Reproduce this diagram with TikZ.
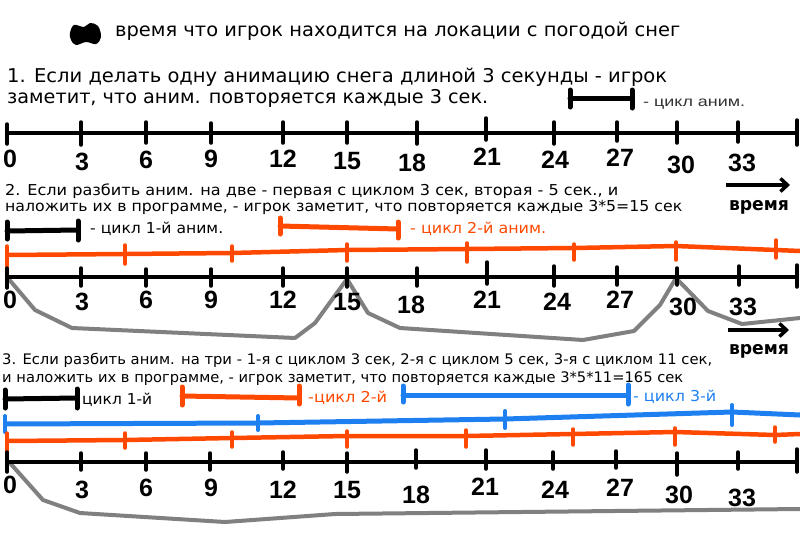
\documentclass[tikz,border=0pt]{standalone}
\usepackage{fontspec}
\setmainfont{DejaVu Sans}
\newfontfamily\numfont{Liberation Sans}
\newfontfamily\thinfont{Liberation Sans}
\usetikzlibrary{arrows.meta}
\definecolor{orng}{RGB}{255,72,0}
\definecolor{blu}{RGB}{30,128,240}
\definecolor{gry}{RGB}{128,128,128}
\newcommand\fitw[2]{\resizebox{#1pt}{\height}{#2}}
\begin{document}
\begin{tikzpicture}[x=1pt,y=-1pt,
  txt/.style={inner sep=0pt,anchor=base west},
  num/.style={inner sep=0pt,font=\numfont\bfseries\fontsize{25}{25}\selectfont},
  tline/.style={line width=4.5pt,black},
  tick/.style={line width=3.5pt,black,line cap=round},
  brk/.style={line width=5pt,line cap=round},
  oline/.style={line width=4.5pt,orng,line join=round},
  otick/.style={line width=3.5pt,orng,line cap=round},
  bline/.style={line width=5pt,blu,line join=round},
  btick/.style={line width=4pt,blu,line cap=round},
  gline/.style={line width=4pt,gry,line join=round,line cap=round},
  timearrow/.style={line width=4pt,-{Straight Barb[length=7pt,width=13pt,line width=3.5pt]}},
  timelbl/.style={inner sep=0pt,font=\bfseries\fontsize{18}{18}\selectfont}
]
\useasboundingbox[fill=white] (0,0) rectangle (800,533);

% ---- title
\fill[black] plot[smooth cycle,tension=0.6] coordinates {(70,33) (74,25) (84,27) (90,23) (98,26) (101,37) (96,44) (86,42) (76,45) (71,40)};
\node[txt,font=\fontsize{19}{19}\selectfont] (title) at (115,36) {\fitw{565}{время что игрок находится на локации с погодой снег}};

% ---- section 1
\node[txt,font=\fontsize{19}{19}\selectfont] (s1a) at (7,82) {\fitw{660}{1. Если делать одну анимацию снега длиной 3 секунды - игрок}};
\node[txt,font=\fontsize{19}{19}\selectfont] (s1b) at (7,103) {\fitw{481}{заметит, что аним. повторяется каждые 3 сек.}};
\draw[brk] (570,98) -- (632,98);
\draw[brk] (570,90) -- (570,107);
\draw[brk] (632,90) -- (632,108);
\node[txt,font=\thinfont\fontsize{14}{14}\selectfont,text=black!80] (c1) at (643,106) {\fitw{102}{- цикл аним.}};

\draw[tline] (7,133) -- (797,133);
\foreach \x/\a/\b in {7/124/144,81/122/145,146/122/143,211/123/143,283/122/143,347/122/143,417/122/144,486/118/140,554/122/144,617/122/141,677/122/143,738/122/142,797/120/145}
  \draw[tick] (\x,\a) -- (\x,\b);
\foreach \x/\y/\t in {10/159/0,82/162/3,146/160/6,211/159/9,283/159/12,347/161/15,412/163/18,487/157/21,555/160/24,620/158/27,681/165/30,742/163/33}
  \node[num] (a\t) at (\x,\y) {\t};

% ---- section 2
\node[txt,font=\fontsize{15}{15}\selectfont] (s2a) at (5,195) {\fitw{613}{2. Если разбить аним. на две - первая с циклом 3 сек, вторая - 5 сек., и}};
\node[txt,font=\fontsize{15}{15}\selectfont] (s2b) at (5,211) {\fitw{677}{наложить их в программе, - игрок заметит, что повторяется каждые 3*5=15 сек}};
\coordinate (ar1s) at (726,185);
\coordinate (ar1e) at (790,185);
\draw[timearrow] (ar1s) -- (ar1e);
\node[timelbl] (t1) at (759,207) {\fitw{60}{время}};

\draw[brk] (7,231) -- (78,230);
\draw[brk] (7,222) -- (7,239);
\draw[brk] (78,221) -- (78,240);
\node[txt,font=\fontsize{15}{15}\selectfont] (c21) at (90,233) {\fitw{133}{- цикл 1-й аним.}};
\draw[brk,orng] (280,226) -- (398,229);
\draw[brk,orng] (280,218) -- (280,234);
\draw[brk,orng] (398,222) -- (398,238);
\node[txt,font=\fontsize{15}{15}\selectfont,text=orng] (c22) at (410,233) {\fitw{136}{- цикл 2-й аним.}};

\draw[oline] (7,255) -- (125,254) -- (232,253) -- (347,250) -- (467,249) -- (574,248) -- (676,246) -- (776,250) -- (800,251);
\foreach \x/\a/\b in {7/246/266,125/245/264,232/246/261,347/244/261,467/243/262,574/244/260,676/242/260,776/240/258}
  \draw[otick] (\x,\a) -- (\x,\b);

\draw[gline] (7,277) -- (35,310) -- (72,328) -- (295,338) -- (315,323) -- (347,279) -- (368,313) -- (400,328) -- (583,340) -- (634,331) -- (660,305) -- (676,278) -- (708,311) -- (742,324) -- (800,318);

\draw[tline] (7,277) -- (797,277);
\foreach \x/\a/\b in {7/268/288,81/268/286,146/269/286,211/269/286,283/268/286,347/268/287,417/268/286,487/262/284,554/266/286,617/267/285,677/268/285,739/266/285,797/265/287}
  \draw[tick] (\x,\a) -- (\x,\b);
\foreach \x/\y/\t in {10/300/0,82/302/3,146/300/6,211/300/9,283/300/12,347/302/15,411/305/18,487/300/21,557/302/24,620/300/27,683/307/30,743/307/33}
  \node[num] (b\t) at (\x,\y) {\t};

\coordinate (ar2s) at (728,330);
\coordinate (ar2e) at (789,330);
\draw[timearrow] (ar2s) -- (ar2e);
\node[timelbl] (t2) at (759,351) {\fitw{60}{время}};

% ---- section 3
\node[txt,font=\fontsize{14.5}{14.5}\selectfont] (s3a) at (2,364) {\fitw{710}{3. Если разбить аним. на три - 1-я с циклом 3 сек, 2-я с циклом 5 сек, 3-я с циклом 11 сек,}};
\node[txt,font=\fontsize{14.5}{14.5}\selectfont] (s3b) at (2,382) {\fitw{681}{и наложить их в программе, - игрок заметит, что повторяется каждые 3*5*11=165 сек}};

\draw[brk] (5,399) -- (77,398);
\draw[brk] (5,390) -- (5,408);
\draw[brk] (77,389) -- (77,408);
\node[txt,font=\fontsize{15}{15}\selectfont] (c31) at (82,404) {\fitw{70}{цикл 1-й}};
\draw[brk,orng] (182,396) -- (299,398);
\draw[brk,orng] (182,387) -- (182,405);
\draw[brk,orng] (299,386) -- (299,404);
\node[txt,font=\fontsize{15}{15}\selectfont,text=orng] (c32) at (308,402) {\fitw{79}{-цикл 2-й}};
\draw[brk,blu] (403,395) -- (628,395);
\draw[brk,blu] (403,386) -- (403,402);
\draw[brk,blu] (628,385) -- (628,404);
\node[txt,font=\fontsize{15}{15}\selectfont,text=blu] (c33) at (633,401) {\fitw{83}{- цикл 3-й}};

\draw[bline] (5,424) -- (258,423) -- (505,419) -- (732,412) -- (800,415);
\foreach \x/\a/\b in {5/416/432,258/416/430,505/411/428,732/405/425}
  \draw[btick] (\x,\a) -- (\x,\b);

\draw[oline] (7,441) -- (125,440) -- (232,438) -- (347,436) -- (466,436) -- (573,434) -- (675,432) -- (775,435) -- (800,434);
\foreach \x/\a/\b in {7/433/451,125/433/448,232/432/447,347/431/447,466/430/447,573/429/445,675/428/445,775/427/442}
  \draw[otick] (\x,\a) -- (\x,\b);

\draw[gline] (10,463) -- (43,500) -- (80,513) -- (225,522) -- (335,514) -- (800,509);

\draw[tline] (7,462) -- (797,462);
\foreach \x/\a/\b in {7/452/472,81/453/470,146/453/470,210/453/470,283/452/469,347/453/472,416/450/468,486/450/469,553/452/469,616/451/468,677/453/475,738/452/469,797/449/472}
  \draw[tick] (\x,\a) -- (\x,\b);
\foreach \x/\y/\t in {10/485/0,82/490/3,146/488/6,211/488/9,283/490/12,347/490/15,416/495/18,485/487/21,555/490/24,620/488/27,679/495/30,742/498/33}
  \node[num] (c\t) at (\x,\y) {\t};
\end{tikzpicture}
\end{document}
